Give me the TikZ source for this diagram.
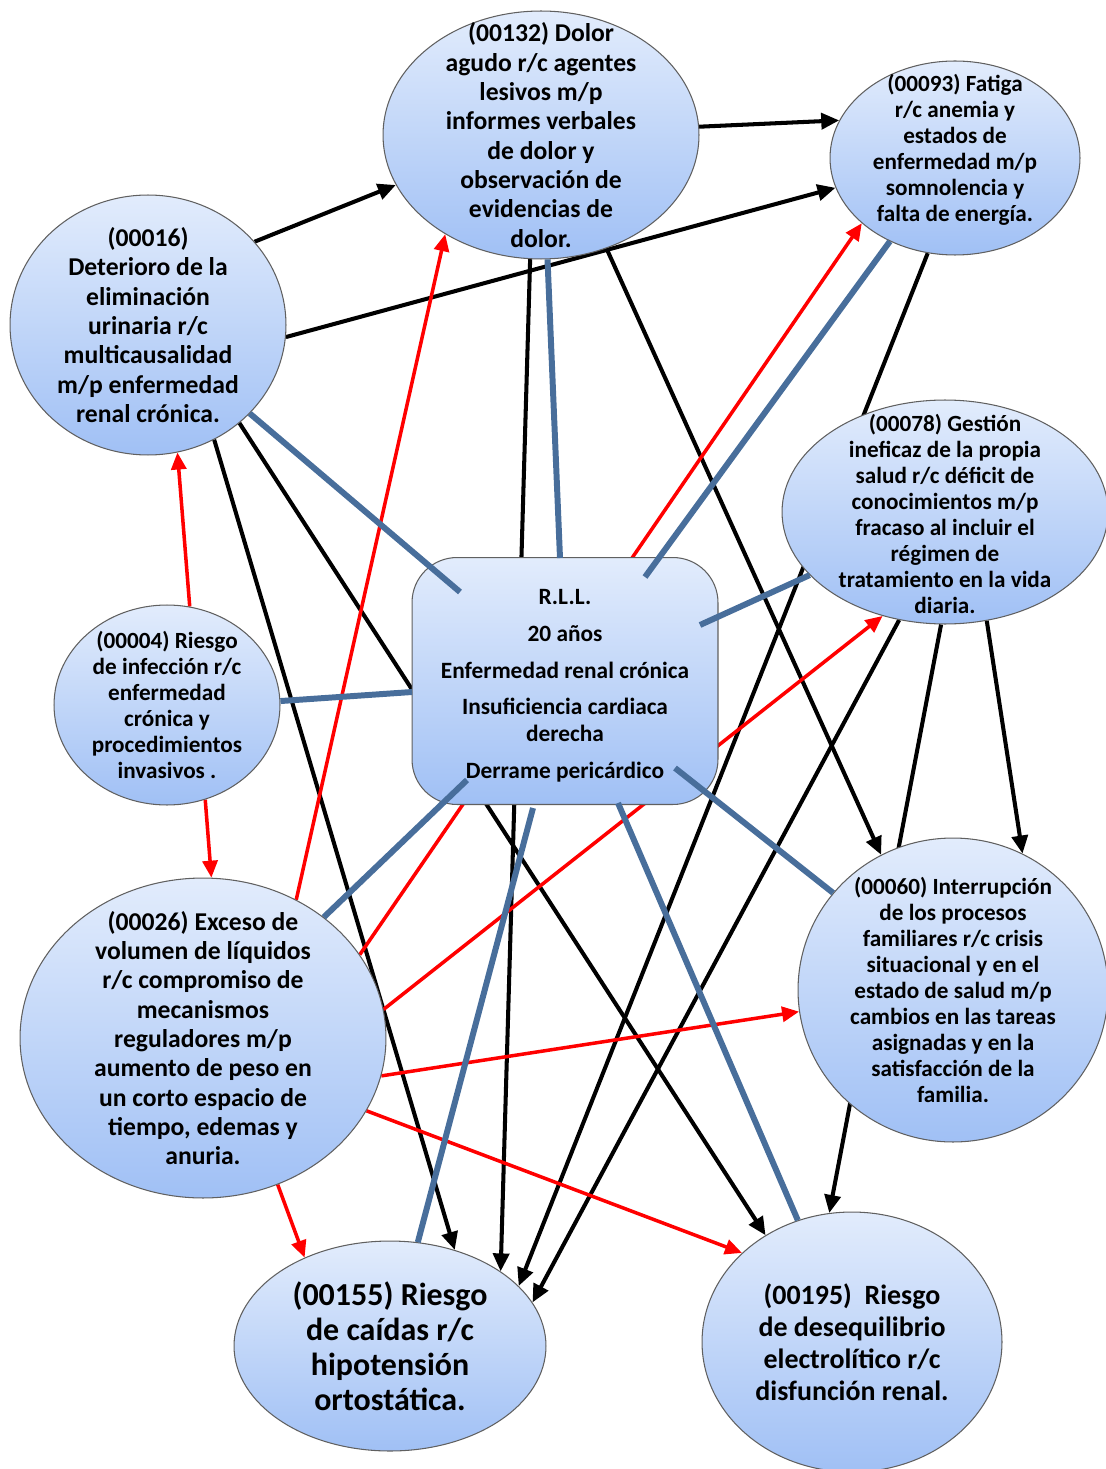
\documentclass[tikz,border=0pt]{standalone}
\usepackage{fontspec}
\setmainfont{Carlito}
\usetikzlibrary{shapes.geometric,arrows.meta}
\pgfdeclarelayer{background}
\pgfsetlayers{background,main}
\definecolor{lnblue}{RGB}{72,110,155}
\definecolor{filltop}{RGB}{226,236,252}
\definecolor{fillbot}{RGB}{160,192,245}
\begin{document}
\begin{tikzpicture}[x=0.02cm,y=-0.02cm,
            dx/.style={ellipse,draw=gray!75!black,line width=0.6pt,top color=filltop,bottom color=fillbot,inner sep=0pt},
            big/.style={align=center,font=\bfseries\fontsize{14.6}{16.7}\selectfont},
            small/.style={align=center,font=\bfseries\fontsize{13.2}{14.8}\selectfont},
            blk/.style={line width=2.3pt,-{Triangle[length=3.6mm,width=3.2mm]}},
            rd/.style={red,line width=2pt,-{Triangle[length=3.4mm,width=3mm]}},
            bl/.style={lnblue,line width=3.4pt},
        ]
    \useasboundingbox (0,0) rectangle (1105,1469);
    \node[dx,minimum width=6.32cm,minimum height=4.96cm,
        label={[big]center:(00132) Dolor\\agudo r/c agentes\\lesivos m/p\\informes verbales\\de dolor y\\observación de\\evidencias de\\dolor.}] (n132) at (541,135) {};
    \node[dx,minimum width=5.0cm,minimum height=3.88cm,
        label={[small,yshift=0.16cm]center:(00093) Fatiga\\r/c anemia y\\estados de\\enfermedad m/p\\somnolencia y\\falta de energía.}] (n093) at (955,158) {};
    \node[dx,minimum width=5.52cm,minimum height=5.2cm,
        label={[big]center:(00016)\\Deterioro de la\\eliminación\\urinaria r/c\\multicausalidad\\m/p enfermedad\\renal crónica.}] (n016) at (148,325) {};
    \node[dx,minimum width=6.52cm,minimum height=4.48cm,
        label={[small,yshift=-0.04cm]center:(00078) Gestión\\ineficaz de la propia\\salud r/c déficit de\\conocimientos m/p\\fracaso al incluir el\\régimen de\\tratamiento en la vida\\diaria.}] (n078) at (945,512) {};
    \node[draw=gray!75!black,line width=0.6pt,top color=filltop,bottom color=fillbot,rounded corners=0.9cm,
        minimum width=6.12cm,minimum height=4.94cm,
        label={[align=center,font=\bfseries\fontsize{13.3}{15.4}\selectfont,yshift=-0.1cm]center:R.L.L.\\[5.5pt]20 años\\[5.5pt]Enfermedad renal crónica\\[5.5pt]Insuficiencia cardiaca\\derecha\\[5.5pt]Derrame pericárdico}] (rll) at (565,681) {};
    \node[dx,minimum width=4.52cm,minimum height=4.0cm,
        label={[small]center:(00004) Riesgo\\de infección r/c\\enfermedad\\crónica y\\procedimientos\\invasivos .}] (n004) at (167,705) {};
    \node[dx,minimum width=7.32cm,minimum height=6.4cm,
        label={[big]center:(00026) Exceso de\\volumen de líquidos\\r/c compromiso de\\mecanismos\\reguladores m/p\\aumento de peso en\\un corto espacio de\\tiempo, edemas y\\anuria.}] (n026) at (203,1038) {};
    \node[dx,minimum width=6.2cm,minimum height=6.08cm,
        label={[small]center:(00060) Interrupción\\de los procesos\\familiares r/c crisis\\situacional y en el\\estado de salud m/p\\cambios en las tareas\\asignadas y en la\\satisfacción de la\\familia.}] (n060) at (953,990) {};
    \node[dx,minimum width=6.24cm,minimum height=4.2cm,
        label={[align=center,font=\bfseries\fontsize{18.2}{20}\selectfont]center:(00155) Riesgo\\de caídas r/c\\hipotensión\\ortostática.}] (n155) at (390,1346) {};
    \node[dx,minimum width=6.0cm,minimum height=5.2cm,
        label={[align=center,font=\bfseries\fontsize{15.9}{18.2}\selectfont]center:(00195)\ \ Riesgo\\de desequilibrio\\electrolítico r/c\\disfunción renal.}] (n195) at (852,1342) {};

    \begin{pgfonlayer}{background}
    \draw[blk] (n016.38) -- (n132.199);
    \draw[blk] (n132.3) -- (n093.162);
    \draw[blk] (n016.355) -- (n093.194);
    \draw[blk] (n132.300) -- (n060.118);
    \draw[blk] (n093.254) -- (n155.25);
    \draw[blk] (n078.247) -- (n155.17);
    \draw[blk] (n078.268) -- (n195.100);
    \draw[blk] (n078.291) -- (n060.63);
    \draw[blk] (n016.300) -- (n155.56);
    \draw[blk] (n016.313) -- (n195.129);
    \draw[blk] (n132.265) -- (n155.34);

    \draw[rd] (n004.77) -- (n016.283);
    \draw[rd] (n004.292) -- (n026.87);
    \draw[rd] (n026.56) -- (n132.226);
    \draw[rd] (n026.28) -- (n093.215);
    \draw[rd] (n026.9) -- (n078.239);
    \draw[rd] (n026.348) -- (n060.188);
    \draw[rd] (n026.336) -- (n195.141);
    \draw[rd] (n026.297) -- (n155.134);
    \end{pgfonlayer}

    \coordinate (c016) at (460,592);
    \coordinate (c132) at (560,558);
    \coordinate (c093) at (645,577);
    \coordinate (c078) at (700,625);
    \coordinate (c004) at (412,692);
    \coordinate (c026) at (467,780);
    \coordinate (c155) at (533,808);
    \coordinate (c195) at (618,803);
    \coordinate (c060) at (675,768);
    \draw[bl] (c016) -- (n016.319);
    \draw[bl] (c132) -- (n132.273);
    \draw[bl] (c093) -- (n093.232);
    \draw[bl] (c078) -- (n078.205);
    \draw[bl] (c004) -- (n004.2);
    \draw[bl] (c026) -- (n026.45);
    \draw[bl] (c155) -- (n155.75);
    \draw[bl] (c195) -- (n195.114);
    \draw[bl] (c060) -- (n060.141);
\end{tikzpicture}
\end{document}
